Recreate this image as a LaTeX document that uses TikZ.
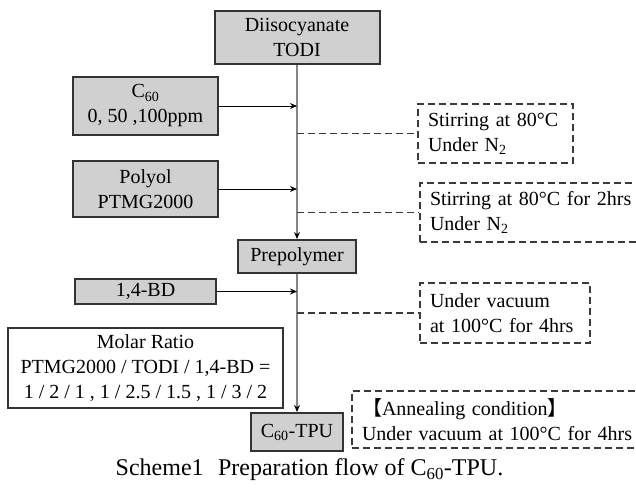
\documentclass[tikz,border=0pt]{standalone}
\usepackage{fontspec}
\setmainfont{Liberation Serif}
\newfontfamily\cjkfont{Noto Sans CJK JP}
\usepackage{xcolor}
\usetikzlibrary{calc,arrows.meta}

\definecolor{boxgray}{HTML}{D0D0D0}
\definecolor{linegray}{HTML}{858585}
\definecolor{dashgray}{HTML}{3A3A3A}

\begin{document}
\begin{tikzpicture}[x=1pt,y=-1pt,
	font=\fontsize{20}{25}\selectfont,
	matbox/.style={draw=black!80,line width=2pt,fill=boxgray,align=center,inner sep=0pt},
	condbox/.style={draw=dashgray,line width=1.8pt,dash pattern=on 7pt off 4pt,align=left,inner xsep=10pt,inner ysep=0pt},
	feed/.style={-{Stealth[length=7pt,width=6pt]},line width=1pt},
	trunk/.style={-{Stealth[length=7pt,width=6pt,color=black]},draw=linegray,line width=1.4pt},
	link/.style={draw=dashgray,line width=1.6pt,dash pattern=on 7pt off 4pt}]
		\clip (0,0) rectangle (636,488);
		
		\node[matbox,minimum width=165pt,minimum height=53pt] (todi) at (297,37.5) {Diisocyanate\\TODI};
		\node[matbox,minimum width=145pt,minimum height=58pt] (cs) at (145.5,106) {C\textsubscript{60}\\0, 50 ,100ppm};
		\node[matbox,minimum width=145pt,minimum height=56pt] (polyol) at (145.5,189) {Polyol\\PTMG2000};
		\node[matbox,minimum width=118pt,minimum height=33pt] (prepolymer) at (297,256.5) {Prepolymer};
		\node[matbox,minimum width=141pt,minimum height=25pt] (bd) at (145.5,291.5) {1,4-BD};
		\node[matbox,fill=white,minimum width=275pt,minimum height=80pt] (ratio) at (145.5,368) {Molar Ratio\\PTMG2000 / TODI / 1,4-BD =\\1 / 2 / 1 , 1 / 2.5 / 1.5 , 1 / 3 / 2};
		\node[matbox,minimum width=92pt,minimum height=38pt] (tpu) at (297,432) {C\textsubscript{60}-TPU};
		
		\node[condbox,text width=135pt,minimum height=59pt] (cond1) at (495.5,133.5) {Stirring at 80°C\\Under N\textsubscript{2}};
		\node[condbox,text width=205pt,minimum height=59pt] (cond2) at (532.5,212.5) {Stirring at 80°C for 2hrs\\Under N\textsubscript{2}};
		\node[condbox,text width=150pt,minimum height=60pt] (cond3) at (505,313) {Under vacuum\\at 100°C for 4hrs};
		\node[condbox,text width=280pt,minimum height=57pt] (anneal) at (502,419.5) {{\cjkfont 【}Annealing condition{\cjkfont 】}\\Under vacuum at 100°C for 4hrs};
		
		\draw[trunk] (todi) -- (prepolymer);
		\draw[trunk] (prepolymer) -- (tpu);
		\draw[feed] (cs.east) -- (cs.east -| todi.south);
		\draw[feed] (polyol.east) -- (polyol.east -| todi.south);
		\draw[feed] (bd.east) -- (bd.east -| todi.south);
		\draw[link] (cond1.west -| todi.south) -- (cond1.west);
		\draw[link] (cond2.west -| todi.south) -- (cond2.west);
		\draw[link] (cond3.west -| todi.south) -- (cond3.west);
		
		\node (caption) at (309.5,470) {\fontsize{24}{28}\selectfont Scheme1\hspace{0.6em}Preparation flow of C\textsubscript{60}-TPU.};
\end{tikzpicture}
\end{document}
